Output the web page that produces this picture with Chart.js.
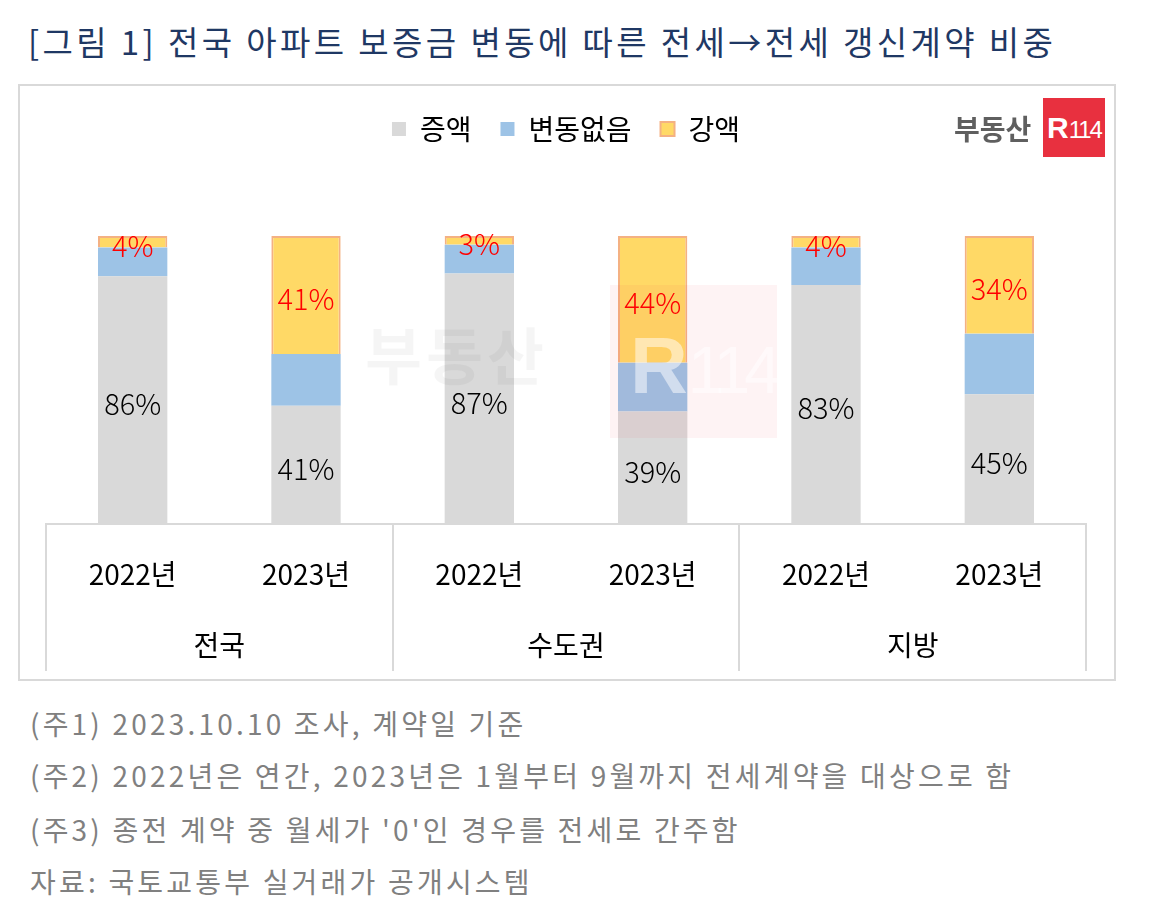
<!DOCTYPE html>
<html>
<head>
<meta charset="utf-8">
<script src="https://cdn.jsdelivr.net/npm/chart.js@4.4.1/dist/chart.umd.min.js"></script>
<style>
html,body{margin:0;padding:0;background:#fff;width:1162px;height:904px;overflow:hidden;font-family:"Noto Sans CJK KR","Noto Sans",sans-serif;}
#title{position:absolute;left:28px;top:18px;font-size:33px;letter-spacing:3.4px;color:#1f3864;white-space:nowrap;line-height:46px;}
#box{position:absolute;left:18px;top:84px;width:1098px;height:597px;border:2px solid #d9d9d9;box-sizing:border-box;}
#wrap{position:absolute;left:0;top:0;width:1094px;height:593px;}
.note{position:absolute;left:30px;font-size:28px;letter-spacing:3.2px;color:#808080;white-space:nowrap;line-height:36px;}
#logoText{position:absolute;left:954px;top:108px;font-size:28px;font-weight:700;color:#5f5f5f;letter-spacing:0px;line-height:40px;}
#logoBox{position:absolute;left:1043px;top:98px;width:62px;height:59px;background:#e8303f;color:#fff;text-align:center;line-height:59px;font-weight:700;font-size:30px;font-family:"Liberation Sans",sans-serif;}
#logoBox span{font-weight:400;font-size:24px;letter-spacing:-2px;}
#wmText{position:absolute;left:365px;top:318px;font-size:62px;font-weight:700;color:rgba(0,0,0,0.04);letter-spacing:4px;line-height:70px;white-space:nowrap;pointer-events:none;}
#wmBox{position:absolute;left:610px;top:285px;width:167px;height:153px;background:rgba(232,48,63,0.06);pointer-events:none;}
#wmBox div{position:absolute;left:20px;top:40px;font-size:80px;font-weight:700;line-height:82px;color:rgba(255,255,255,0.5);font-family:"Liberation Sans",sans-serif;}
#wmBox div span{font-weight:400;font-size:66px;letter-spacing:-6px;}
</style>
</head>
<body>
<div id="title">[그림 1] 전국 아파트 보증금 변동에 따른 전세→전세 갱신계약 비중</div>
<div id="box"><div id="wrap"><canvas id="c"></canvas></div></div>
<div id="logoText">부동산</div>
<div id="logoBox">R<span>114</span></div>
<div id="wmText">부동산</div>
<div id="wmBox"><div>R<span>114</span></div></div>
<div class="note" style="top:705px">(주1) 2023.10.10 조사, 계약일 기준</div>
<div class="note" style="top:757px">(주2) 2022년은 연간, 2023년은 1월부터 9월까지 전세계약을 대상으로 함</div>
<div class="note" style="top:811px">(주3) 종전 계약 중 월세가 '0'인 경우를 전세로 간주함</div>
<div class="note" style="top:863px">자료: 국토교통부 실거래가 공개시스템</div>
<script>
const categories = ['2022년','2023년','2022년','2023년','2022년','2023년'];
const groups = ['전국','수도권','지방'];
const seriesNames = ['증액','변동없음','강액'];
const increase = [86,41,87,39,83,45];
const unchanged = [10,18,10,17,13,21];
const decrease = [4,41,3,44,4,34];

const FONT = '"Noto Sans CJK KR", "Noto Sans", sans-serif';

const legendGap = {
  id:'legendGap',
  beforeLayout(chart){
    const lg = chart.legend;
    if(lg && !lg._gapPatched){
      const f = lg.fit;
      lg.fit = function(){ f.call(this); this.height += 83; };
      lg._gapPatched = true;
    }
  }
};

const valueLabels = {
  id:'valueLabels',
  afterDatasetsDraw(chart){
    const ctx = chart.ctx;
    chart.data.datasets.forEach((ds,i)=>{
      if(!ds.labelColor) return;
      const meta = chart.getDatasetMeta(i);
      meta.data.forEach((el,j)=>{
        ctx.save();
        ctx.font = '300 29px ' + FONT;
        ctx.fillStyle = ds.labelColor;
        ctx.textAlign = 'center';
        ctx.textBaseline = 'middle';
        ctx.fillText(ds.data[j] + '%', el.x, (el.y + el.base) / 2 + 4);
        ctx.restore();
      });
    });
  }
};

const groupDividers = {
  id:'groupDividers',
  afterDraw(chart){
    const s = chart.scales.x2;
    const ctx = chart.ctx;
    const n = groups.length;
    const top = chart.chartArea.bottom;
    const bottom = s.bottom + 6;
    ctx.save();
    ctx.strokeStyle = '#d9d9d9';
    ctx.lineWidth = 2;
    for(let i=0;i<=n;i++){
      const x = Math.round(s.left + s.width * i / n);
      ctx.beginPath();
      ctx.moveTo(x, top);
      ctx.lineTo(x, bottom);
      ctx.stroke();
    }
    ctx.restore();
  }
};

new Chart(document.getElementById('c'), {
  type:'bar',
  data:{
    labels: categories,
    datasets:[
      {label:seriesNames[0], data:increase, backgroundColor:'#d9d9d9', borderWidth:0, labelColor:'#000000'},
      {label:seriesNames[1], data:unchanged, backgroundColor:'#9dc3e6', borderWidth:0},
      {label:seriesNames[2], data:decrease, backgroundColor:'#ffd966', borderColor:'#f4b183', borderWidth:2, labelColor:'#ff0000'}
    ]
  },
  options:{
    responsive:true,
    maintainAspectRatio:false,
    animation:false,
    devicePixelRatio:1,
    layout:{padding:{top:0,left:26,right:28,bottom:14}},
    datasets:{bar:{barPercentage:0.4, categoryPercentage:1}},
    plugins:{
      legend:{
        position:'top',
        align:'center',
        labels:{boxWidth:14, boxHeight:14, padding:29, color:'#000', font:{family:FONT, size:28}}
      },
      tooltip:{enabled:false},
      title:{display:false}
    },
    scales:{
      x:{
        stacked:true,
        weight:0,
        grid:{display:false, drawTicks:false},
        border:{display:true, color:'#d9d9d9', width:2},
        ticks:{color:'#000', padding:34, font:{family:FONT, size:28}}
      },
      x2:{
        type:'category',
        labels:groups,
        position:'bottom',
        offset:true,
        weight:1,
        grid:{display:false, drawTicks:false},
        border:{display:false},
        ticks:{color:'#000', padding:3, font:{family:FONT, size:28}}
      },
      y:{stacked:true, min:0, max:100, display:false}
    }
  },
  plugins:[legendGap, valueLabels, groupDividers]
});
</script>
</body>
</html>
